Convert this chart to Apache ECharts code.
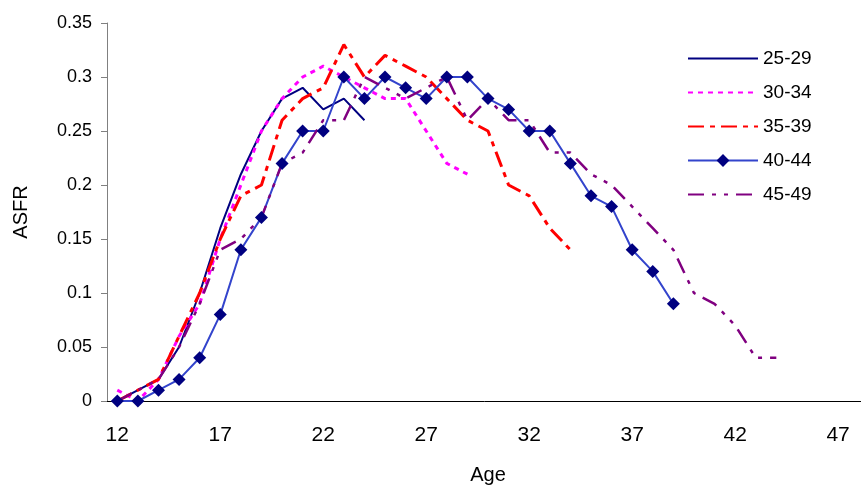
<!DOCTYPE html>
<html>
<head>
<meta charset="utf-8">
<script src="https://cdn.jsdelivr.net/npm/echarts@6/dist/echarts.min.js"></script>
<style>
  html, body { margin: 0; padding: 0; background: #fff; }
  #chart { width: 861px; height: 485px; }
</style>
</head>
<body>
<div id="chart"></div>
<script>
// ages 12..48 on the category axis
const ages = []
for (let a = 12; a <= 48; a++) ages.push(String(a))

// ASFR by age, each series starts at age 12
const asfr2529 = [0, 0.01, 0.02, 0.05, 0.10, 0.16, 0.21, 0.25, 0.28, 0.29, 0.27, 0.28, 0.26]
const asfr3034 = [0.01, 0, 0.02, 0.06, 0.09, 0.15, 0.20, 0.25, 0.28, 0.30, 0.31, 0.30, 0.29, 0.28, 0.28, 0.25, 0.22, 0.21]
const asfr3539 = [0, 0.01, 0.02, 0.06, 0.10, 0.15, 0.19, 0.20, 0.26, 0.28, 0.29, 0.33, 0.30, 0.32, 0.31, 0.30, 0.28, 0.26, 0.25, 0.20, 0.19, 0.16, 0.14]
const asfr4044 = [0, 0, 0.01, 0.02, 0.04, 0.08, 0.14, 0.17, 0.22, 0.25, 0.25, 0.30, 0.28, 0.30, 0.29, 0.28, 0.30, 0.30, 0.28, 0.27, 0.25, 0.25, 0.22, 0.19, 0.18, 0.14, 0.12, 0.09]
const asfr4549 = [0, 0.01, 0.02, 0.05, 0.09, 0.14, 0.15, 0.17, 0.22, 0.23, 0.26, 0.26, 0.30, 0.29, 0.28, 0.29, 0.30, 0.26, 0.28, 0.26, 0.26, 0.23, 0.23, 0.21, 0.20, 0.18, 0.16, 0.14, 0.10, 0.09, 0.07, 0.04, 0.04]

const font = 'Liberation Sans, Arial, sans-serif'

const pad = arr => ages.map((a, i) => (i < arr.length ? arr[i] : null))

const plainLine = (name, data, color, width, type) => ({
  name: name,
  type: 'line',
  data: pad(data),
  symbol: 'none',
  lineStyle: {color: color, width: width, type: type, cap: 'butt'},
  itemStyle: {color: color}
})

// legend entry with the line only, no marker
const lineOnly = name => ({name: name, itemStyle: {opacity: 0}})

const chart = echarts.init(document.getElementById('chart'))

const option = {
  animation: false,
  textStyle: {fontFamily: font},
  grid: {left: 107, top: 23, bottom: 84, right: -8, outerBoundsMode: 'none'},
  legend: {
    orient: 'vertical',
    left: 687,
    top: 49,
    padding: 0,
    itemWidth: 70,
    itemHeight: 16,
    itemGap: 15,
    textStyle: {fontSize: 19, color: '#000', fontFamily: font},
    data: [lineOnly('25-29'), lineOnly('30-34'), lineOnly('35-39'), {name: '40-44'}, lineOnly('45-49')]
  },
  xAxis: {
    type: 'category',
    data: ages,
    boundaryGap: true,
    name: 'Age',
    nameLocation: 'middle',
    nameGap: 64,
    nameTextStyle: {fontSize: 20, color: '#000', fontFamily: font},
    axisLine: {lineStyle: {color: '#000', width: 1}},
    axisTick: {interval: 0, length: 6, lineStyle: {color: '#808080'}},
    axisLabel: {interval: 4, fontSize: 21, color: '#000', margin: 24, fontFamily: font},
    splitLine: {show: false}
  },
  yAxis: {
    type: 'value',
    min: 0,
    max: 0.35,
    interval: 0.05,
    name: 'ASFR',
    nameLocation: 'middle',
    nameGap: 76,
    nameTextStyle: {fontSize: 20, color: '#000', fontFamily: font},
    axisLine: {show: true, lineStyle: {color: '#808080', width: 1}},
    axisTick: {show: true, length: 6, lineStyle: {color: '#808080'}},
    axisLabel: {fontSize: 18, color: '#000', margin: 15, fontFamily: font},
    splitLine: {show: false}
  },
  series: [
    plainLine('25-29', asfr2529, '#000080', 2, 'solid'),
    plainLine('30-34', asfr3034, '#FF00FF', 3, [5, 5]),
    plainLine('35-39', asfr3539, '#FF0000', 3, [16, 6, 5, 6]),
    {
      name: '40-44',
      type: 'line',
      data: pad(asfr4044),
      symbol: 'diamond',
      symbolSize: 13,
      lineStyle: {color: '#3344CC', width: 2},
      itemStyle: {color: '#000080'}
    },
    plainLine('45-49', asfr4549, '#800080', 2.5, [16, 8, 4, 8, 4, 8])
  ]
}

chart.setOption(option)
</script>
</body>
</html>
